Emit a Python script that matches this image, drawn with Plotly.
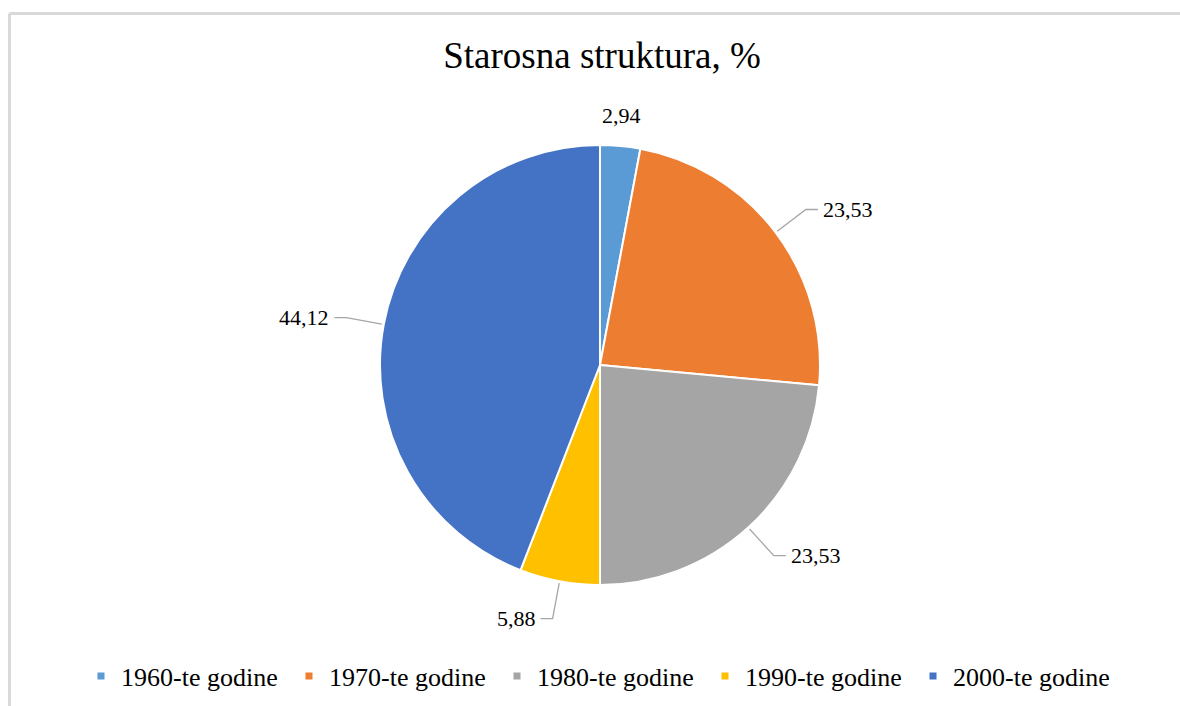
import math
import plotly.graph_objects as go

# data
categories = ["1960-te godine", "1970-te godine", "1980-te godine", "1990-te godine", "2000-te godine"]
shares = [2.94, 23.53, 23.53, 5.88, 44.12]
colors = ["#5B9BD5", "#ED7D31", "#A5A5A5", "#FFC000", "#4472C4"]
title = "Starosna struktura, %"

W, H = 1180, 706
CX, CY, R = 600, 365, 220  # pie centre / radius in px
FONT = "Liberation Serif"


def px2paper(x, y):
    return x / W, 1 - y / H


fig = go.Figure()

fig.add_trace(go.Pie(
    labels=categories, values=shares, sort=False, direction="clockwise", rotation=0,
    marker=dict(colors=colors, line=dict(color="white", width=2)),
    textinfo="none", hoverinfo="label+value", showlegend=False,
    domain=dict(x=[(CX - R) / W, (CX + R) / W], y=[1 - (CY + R) / H, 1 - (CY - R) / H]),
))

# legend entries with small square markers
for name, col in zip(categories, colors):
    fig.add_trace(go.Scatter(x=[None], y=[None], mode="markers", name=name,
                             marker=dict(symbol="square", size=7, color=col)))

# outside labels with leader lines, placed from the slice angles
total = sum(shares)
cum = 0
shapes = []
annotations = []
for v in shares:
    mid = (cum + v / 2) / total * 2 * math.pi
    cum += v
    s, c = math.sin(mid), -math.cos(mid)
    px, py = CX + (R + 2) * s, CY + (R + 2) * c
    qx, qy = CX + (R + 38) * s, CY + (R + 38) * c
    txt = f"{v:.2f}".replace(".", ",")
    if abs(s) < 0.12:
        ax, ay = px2paper(CX + (R + 16) * s, CY + (R + 16) * c)
        annotations.append(dict(x=ax, y=ay, xref="paper", yref="paper", text=txt, showarrow=False,
                                xanchor="center", yanchor="bottom" if c < 0 else "top",
                                font=dict(family=FONT, size=22, color="#000000")))
        continue
    side = 1 if s > 0 else -1
    tx = qx + side * 12
    x0, y0 = px2paper(px, py)
    x1, y1 = px2paper(qx, qy)
    x2, y2 = px2paper(tx, qy)
    shapes.append(dict(type="path", xref="paper", yref="paper",
                       path=f"M {x0} {y0} L {x1} {y1} L {x2} {y2}",
                       line=dict(color="#A6A6A6", width=1.3)))
    lx, ly = px2paper(tx + side * 3, qy)
    annotations.append(dict(x=lx, y=ly, xref="paper", yref="paper", text=txt, showarrow=False,
                            xanchor="left" if side > 0 else "right", yanchor="middle",
                            font=dict(family=FONT, size=22, color="#000000")))

# light frame: only the left and top edges are visible in the reference
fx, fy = px2paper(9.5, 13.5)
shapes.append(dict(type="line", xref="paper", yref="paper", x0=fx, y0=0, x1=fx, y1=fy,
                   line=dict(color="#D9D9D9", width=3), layer="below"))
shapes.append(dict(type="line", xref="paper", yref="paper", x0=fx, y0=fy, x1=1, y1=fy,
                   line=dict(color="#D9D9D9", width=3), layer="below"))

tx_, ty_ = px2paper(602, 55)
lgx, lgy = px2paper(601, 676)

fig.update_layout(
    width=W, height=H,
    margin=dict(l=0, r=0, t=0, b=0),
    paper_bgcolor="white", plot_bgcolor="white",
    title=dict(text=title, x=tx_, xanchor="center", y=ty_, yanchor="middle",
               font=dict(family=FONT, size=37, color="#000000")),
    xaxis=dict(visible=False), yaxis=dict(visible=False),
    legend=dict(orientation="h", x=lgx, xanchor="center", y=lgy, yanchor="middle",
                entrywidth=163,
                font=dict(family=FONT, size=26, color="#000000"), itemclick=False),
    shapes=shapes, annotations=annotations,
)

# drop the page margin so the figure fills the window without scrollbars
fig.write_html("out.html", config={"displayModeBar": False},
               post_script="document.body.style.margin='0';document.body.style.overflow='hidden';")
